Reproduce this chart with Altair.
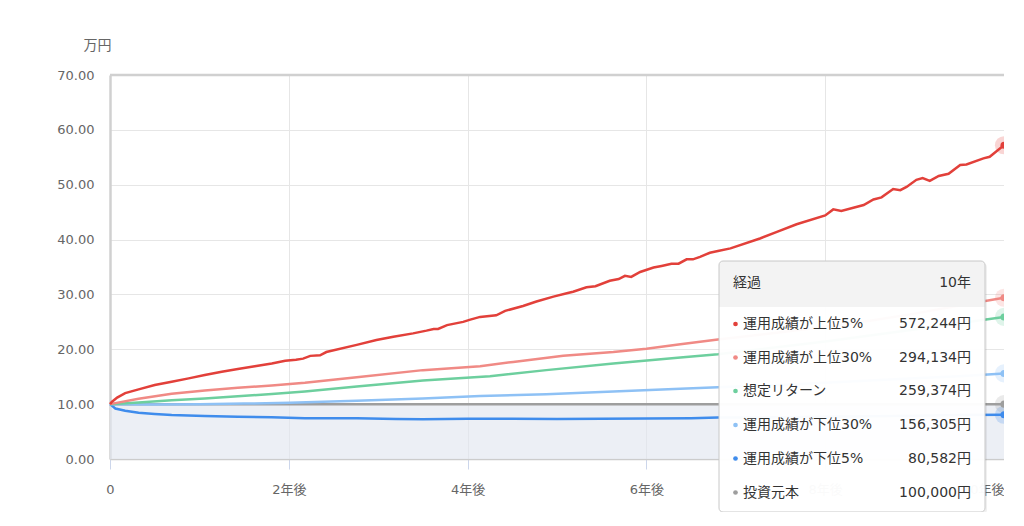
import altair as alt
import pandas as pd

# ---------------- data ----------------
red_years = [0, 0.02, 0.08, 0.17, 0.32, 0.50, 0.69, 0.88, 1.06, 1.25, 1.43, 1.62, 1.81, 1.96, 2.08, 2.16,
             2.24, 2.35, 2.42, 2.76, 2.98, 3.17, 3.39, 3.54, 3.62, 3.67, 3.77, 3.95, 4.03, 4.14, 4.32,
             4.42, 4.62, 4.77, 4.96, 5.11, 5.18, 5.33, 5.43, 5.59, 5.69, 5.76, 5.83, 5.93, 6.08, 6.17,
             6.28, 6.36, 6.45, 6.52, 6.60, 6.71, 6.80, 6.94, 7.27, 7.46, 7.68, 8.00, 8.09, 8.18, 8.43,
             8.54, 8.63, 8.76, 8.84, 8.91, 9.02, 9.09, 9.17, 9.27, 9.38, 9.51, 9.58, 9.77, 9.84, 10.0]
red_vals = [10.0, 10.4, 11.2, 12.0, 12.7, 13.5, 14.1, 14.7, 15.3, 15.9, 16.4, 16.9, 17.4, 17.9, 18.1, 18.3,
            18.8, 18.9, 19.5, 20.8, 21.7, 22.3, 22.9, 23.4, 23.7, 23.7, 24.4, 25.0, 25.4, 25.9, 26.2,
            27.0, 27.9, 28.7, 29.6, 30.2, 30.5, 31.3, 31.5, 32.5, 32.8, 33.4, 33.2, 34.1, 34.9, 35.2,
            35.6, 35.6, 36.4, 36.4, 36.85, 37.6, 37.9, 38.4, 40.2, 41.4, 42.8, 44.4, 45.5, 45.2, 46.3,
            47.3, 47.7, 49.2, 49.0, 49.6, 50.9, 51.2, 50.7, 51.6, 52.0, 53.6, 53.7, 54.8, 55.1, 57.2]

pink_years = [0, 0.32, 0.69, 1.06, 1.43, 1.81, 2.18, 2.76, 3.5, 4.14, 4.51, 5.07, 5.63, 6.0, 6.38, 6.8,
              7.5, 8.0, 8.5, 9.0, 9.5, 10.0]
pink_vals = [10.0, 11.0, 11.9, 12.5, 13.0, 13.4, 13.9, 14.9, 16.2, 16.9, 17.7, 18.8, 19.5, 20.1, 20.9, 21.8,
             23.1, 24.1, 25.2, 26.5, 28.0, 29.4]

green_years = [0, 0.32, 0.69, 1.06, 1.43, 1.81, 2.18, 2.76, 3.5, 4.25, 4.88, 5.63, 6.38, 6.8, 8.0, 9.0, 10.0]
green_vals = [10.0, 10.3, 10.7, 11.05, 11.45, 11.85, 12.3, 13.2, 14.3, 15.1, 16.2, 17.4, 18.5, 19.1,
              21.4, 23.6, 25.9]

lblue_years = [0, 0.5, 1.0, 1.5, 2.01, 2.76, 3.5, 4.14, 4.88, 5.63, 6.38, 6.8, 7.5, 8.0, 8.5, 9.0, 9.5, 10.0]
lblue_vals = [10.0, 9.95, 10.0, 10.1, 10.25, 10.6, 11.05, 11.5, 11.8, 12.3, 12.8, 13.1, 13.5, 13.9, 14.3,
              14.7, 15.1, 15.6]

blue_years = [0, 0.06, 0.17, 0.32, 0.5, 0.69, 1.06, 1.43, 1.81, 2.18, 2.76, 3.2, 3.5, 4.0, 4.5, 5.0, 5.5,
              6.0, 6.5, 6.8, 7.5, 8.0, 8.5, 9.0, 9.5, 10.0]
blue_vals = [10.0, 9.2, 8.8, 8.43, 8.2, 8.0, 7.83, 7.7, 7.6, 7.45, 7.41, 7.3, 7.25, 7.35, 7.35, 7.3, 7.35,
             7.4, 7.45, 7.55, 7.6, 7.7, 7.8, 7.9, 8.0, 8.06]

grey_years = [0, 10]
grey_vals = [10.0, 10.0]

series_names = ["運用成績が上位5%", "運用成績が上位30%", "想定リターン", "運用成績が下位30%", "運用成績が下位5%", "投資元本"]
series_colors = ["#e2403a", "#f08a85", "#6dcf9e", "#8ec1f5", "#3f8cec", "#9e9e9e"]
series_amounts = ["572,244円", "294,134円", "259,374円", "156,305円", "80,582円", "100,000円"]

y_ticks = [0, 10, 20, 30, 40, 50, 60, 70]
x_ticks = [0, 2, 4, 6, 8, 10]

tooltip_header_left = "経過"
tooltip_header_right = "10年"

# ---------------- build tables ----------------
all_years = [red_years, pink_years, green_years, lblue_years, blue_years, grey_years]
all_vals = [red_vals, pink_vals, green_vals, lblue_vals, blue_vals, grey_vals]

def series_df(i):
    return pd.DataFrame({"year": all_years[i], "value": all_vals[i], "series": series_names[i]})

FONT = "DejaVu Sans, Noto Sans CJK JP, sans-serif"
xs = alt.Scale(domain=[0, 10], nice=False, zero=False)
ys = alt.Scale(domain=[0, 70], nice=False)

x_axis = alt.Axis(values=x_ticks, title=None, grid=True, gridColor="#e6e6e6",
                  labelExpr="datum.value == 0 ? '0' : datum.value + '年後'", labelFlush=False,
                  labelAlign=alt.expr("datum.value == 10 ? 'right' : 'center'"),
                  tickSize=10, tickColor="#ccd6eb", labelPadding=14, labelFontSize=13,
                  labelColor="#666666", labelFont=FONT, domainColor="#cccccc", domainWidth=1.5)
y_axis = alt.Axis(values=y_ticks, format=".2f", title="万円", titleAngle=0, titleX=-13, titleY=-30,
                  titleAlign="center", titleBaseline="middle", titleFontSize=14,
                  titleFontWeight="normal", titleColor="#666666", titleFont=FONT, labelFlush=False,
                  ticks=False, labelPadding=16, labelFontSize=13, labelColor="#666666", labelFont=FONT,
                  grid=True, gridColor="#e6e6e6", domainColor="#d0d0d0", domainWidth=2.5)

area = alt.Chart(series_df(5)).mark_area(color="#e2e7f0", opacity=0.65).encode(
    x=alt.X("year:Q", scale=xs, axis=x_axis),
    y=alt.Y("value:Q", scale=ys, axis=y_axis),
)

top_border = alt.Chart(pd.DataFrame({"value": [70]})).mark_rule(color="#d0d0d0", strokeWidth=2.5).encode(
    y=alt.Y("value:Q", scale=ys))

layers = [area, top_border]
for i in [5, 4, 3, 2, 1, 0]:
    layers.append(
        alt.Chart(series_df(i)).mark_line(color=series_colors[i], strokeWidth=2.5).encode(
            x=alt.X("year:Q", scale=xs), y=alt.Y("value:Q", scale=ys))
    )

end_df = pd.DataFrame({
    "year": [all_years[i][-1] for i in range(6)],
    "value": [all_vals[i][-1] for i in range(6)],
    "series": series_names,
})
color_enc = alt.Color("series:N", scale=alt.Scale(domain=series_names, range=series_colors), legend=None)
halo = alt.Chart(end_df).mark_circle(size=330, opacity=0.22).encode(
    x=alt.X("year:Q", scale=xs), y=alt.Y("value:Q", scale=ys), color=color_enc)
dots = alt.Chart(end_df).mark_circle(size=50, opacity=1).encode(
    x=alt.X("year:Q", scale=xs), y=alt.Y("value:Q", scale=ys), color=color_enc)
layers += [halo, dots]

# ---------------- tooltip overlay (pixel positions relative to plot origin) ----------------
one = pd.DataFrame({"k": [0]})
box_shadow = alt.Chart(one).mark_rect(cornerRadius=4, fill="#000000", opacity=0.06).encode(
    x=alt.value(610), x2=alt.value(877), y=alt.value(188), y2=alt.value(439))
box = alt.Chart(one).mark_rect(cornerRadius=4, fill="#ffffff", opacity=0.97).encode(
    x=alt.value(609), x2=alt.value(875), y=alt.value(186), y2=alt.value(437))
header = alt.Chart(one).mark_rect(cornerRadiusTopLeft=4, cornerRadiusTopRight=4, fill="#f3f3f3").encode(
    x=alt.value(609), x2=alt.value(875), y=alt.value(186), y2=alt.value(232))
box_stroke = alt.Chart(one).mark_rect(cornerRadius=4, fillOpacity=0, stroke="#c8c8c8", strokeWidth=1).encode(
    x=alt.value(609), x2=alt.value(875), y=alt.value(186), y2=alt.value(437))
hdr_left = alt.Chart(one).mark_text(text=tooltip_header_left, align="left", baseline="middle",
                                    fontSize=14, font=FONT, color="#333333").encode(
    x=alt.value(623), y=alt.value(208))
hdr_right = alt.Chart(one).mark_text(text=tooltip_header_right, align="right", baseline="middle",
                                     fontSize=14, font=FONT, color="#333333").encode(
    x=alt.value(861), y=alt.value(208))

row_y = [249, 282.5, 316, 350, 383.5, 417.5]
rows_df = pd.DataFrame({"series": series_names, "amount": series_amounts, "py": row_y})
bullets = alt.Chart(rows_df).mark_circle(size=22, opacity=1).encode(
    x=alt.value(625.5), y=alt.Y("py:Q", scale=None), color=color_enc)
labels = alt.Chart(rows_df).mark_text(align="left", baseline="middle", fontSize=14, font=FONT,
                                      color="#333333").encode(
    x=alt.value(633), y=alt.Y("py:Q", scale=None), text="series:N")
amounts = alt.Chart(rows_df).mark_text(align="right", baseline="middle", fontSize=14, font=FONT,
                                       color="#333333").encode(
    x=alt.value(861), y=alt.Y("py:Q", scale=None), text="amount:N")

layers += [box_shadow, box, header, box_stroke, hdr_left, hdr_right, bullets, labels, amounts]

chart = alt.layer(*layers).properties(
    width=894, height=384,
    padding={"left": 102, "top": 67, "right": 0, "bottom": 53},
    autosize=alt.AutoSizeParams(type="none"),
).configure_view(stroke="#dedede", strokeWidth=1).configure(font=FONT)

chart.save("out.html", embed_options={"renderer": "svg", "actions": False})
